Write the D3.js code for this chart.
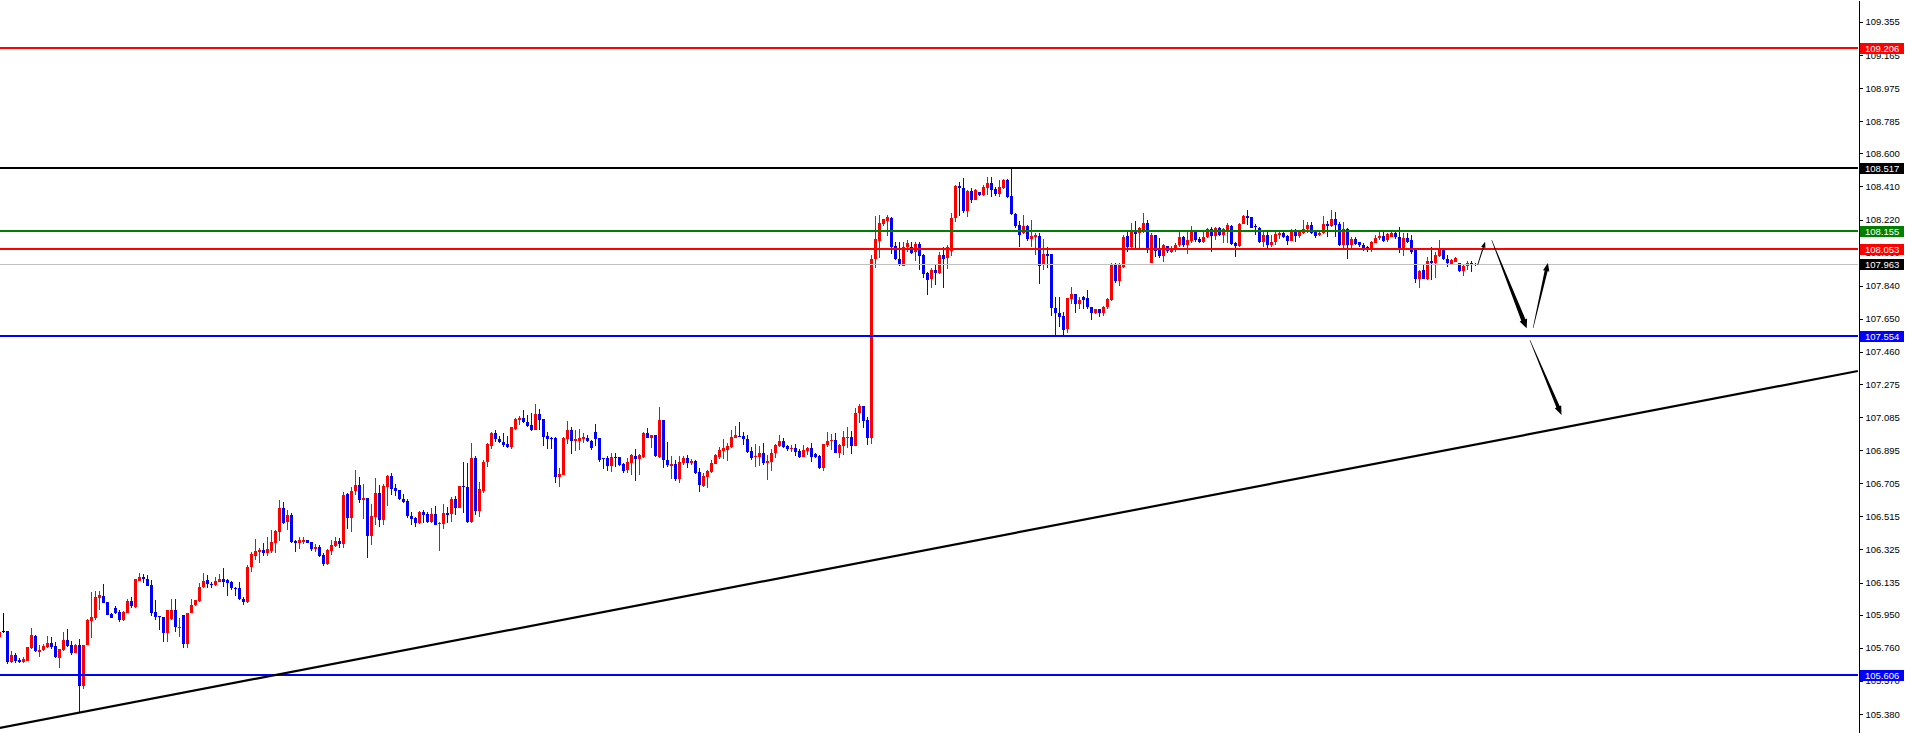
<!DOCTYPE html>
<html><head><meta charset="utf-8">
<script src="https://cdn.jsdelivr.net/npm/d3@7"></script>
<style>
html,body{margin:0;padding:0;background:#fff;overflow:hidden;}
svg{display:block;}
.tk text{font-family:"Liberation Sans",Arial,sans-serif;font-size:9.5px;fill:#000;}
</style></head><body>
<svg id="c" width="1905" height="733"></svg>
<script>
// ---------- DATA ----------
const opens = [105.824,105.856,105.856,105.680,105.719,105.693,105.680,105.686,105.760,105.827,105.737,105.747,105.766,105.789,105.772,105.703,105.747,105.805,105.776,105.732,
105.776,105.542,105.776,105.916,105.933,106.044,106.057,106.025,105.954,105.987,105.964,105.920,105.962,106.029,105.996,106.145,106.165,106.155,106.121,105.966,
105.943,105.937,105.847,105.924,105.977,105.877,105.948,105.785,105.958,106.006,106.030,106.107,106.149,106.126,106.119,106.140,106.153,106.149,106.140,106.103,
106.105,106.042,106.025,106.222,106.289,106.312,106.321,106.306,106.318,106.365,106.427,106.565,106.484,106.524,106.373,106.363,106.369,106.377,106.367,106.329,
106.341,106.296,106.241,106.318,106.346,106.373,106.356,106.641,106.507,106.660,106.695,106.609,106.622,106.404,106.513,106.647,106.494,106.685,106.746,106.679,
106.666,106.616,106.605,106.517,106.507,106.478,106.542,106.528,106.482,106.528,106.469,106.471,106.536,106.526,106.614,106.565,106.689,106.685,106.484,106.852,
106.547,106.662,106.829,106.921,106.995,106.959,106.944,106.931,106.915,107.017,107.068,107.078,107.055,107.040,107.011,107.103,107.074,106.977,106.967,106.965,
106.743,106.753,106.959,107.011,106.950,106.950,106.957,106.967,106.950,107.000,106.967,106.848,106.848,106.804,106.858,106.856,106.816,106.781,106.823,106.862,
106.846,106.854,106.992,106.967,106.982,106.858,107.068,106.839,106.806,106.816,106.730,106.823,106.852,106.823,106.835,106.772,106.691,106.743,106.772,106.816,
106.858,106.892,106.898,106.915,106.967,106.977,106.977,106.961,106.890,106.854,106.858,106.877,106.820,106.829,106.877,106.921,106.948,106.919,106.904,106.910,
106.890,106.858,106.890,106.910,106.871,106.862,106.795,106.925,106.948,106.954,106.881,106.921,106.963,106.973,106.921,107.107,107.149,107.068,106.967,107.993,
108.098,108.194,108.213,108.230,108.067,107.993,107.955,108.064,108.064,108.035,108.079,108.016,107.914,107.876,107.930,107.914,108.016,107.997,108.039,108.230,
108.412,108.399,108.269,108.383,108.332,108.378,108.360,108.402,108.428,108.395,108.366,108.399,108.447,108.355,108.251,108.188,108.140,108.182,108.111,108.117,
108.125,107.958,108.025,108.022,107.713,107.686,107.667,107.589,107.761,107.792,107.734,107.773,107.771,107.715,107.681,107.706,107.681,107.719,107.757,107.958,
107.866,107.949,108.125,108.064,108.150,108.144,108.159,108.202,107.972,108.131,108.045,108.010,108.068,108.035,108.051,108.074,108.121,108.074,108.096,108.150,
108.106,108.093,108.118,108.164,108.127,108.169,108.131,108.160,108.183,108.087,108.070,108.194,108.240,108.234,108.183,108.173,108.089,108.131,108.074,108.093,
108.131,108.141,108.125,108.096,108.160,108.127,108.141,108.164,108.188,108.150,108.131,108.141,108.192,108.185,108.221,108.192,108.074,108.164,108.074,108.106,
108.093,108.074,108.064,108.058,108.087,108.112,108.125,108.102,108.121,108.141,108.121,108.054,108.112,108.102,108.051,107.878,107.930,107.876,107.984,107.972,
108.010,108.045,107.991,107.964,107.978,107.968,107.924,107.953,107.972,107.964];
const highs = [105.856,105.958,105.856,105.742,105.732,105.703,105.705,105.766,105.875,105.833,105.776,105.785,105.827,105.824,105.795,105.756,105.852,105.870,105.801,105.782,
105.812,105.776,105.924,106.082,106.088,106.088,106.126,106.025,105.962,106.000,105.977,105.973,106.038,106.054,106.155,106.188,106.184,106.178,106.149,106.034,
105.943,105.939,105.977,106.038,106.038,105.929,105.948,105.958,106.038,106.034,106.130,106.188,106.178,106.140,106.168,106.184,106.220,106.153,106.143,106.111,
106.140,106.054,106.235,106.312,106.385,106.335,106.360,106.398,106.436,106.436,106.609,106.597,106.551,106.532,106.379,106.394,106.394,106.379,106.369,106.356,
106.350,106.302,106.327,106.379,106.398,106.392,106.655,106.647,106.685,106.781,106.739,106.704,106.622,106.586,106.737,106.695,106.704,106.752,106.764,106.700,
106.666,106.641,106.614,106.540,106.513,106.545,106.551,106.538,106.565,106.574,106.484,106.586,106.570,106.624,106.632,106.691,106.829,106.823,106.938,106.861,
106.714,106.838,106.938,107.001,107.011,106.976,106.992,106.977,107.030,107.078,107.091,107.126,107.097,107.107,107.160,107.132,107.074,107.000,106.973,106.973,
106.791,106.973,107.063,107.026,107.011,107.015,106.992,106.982,106.954,107.045,106.967,106.852,106.862,106.877,106.877,106.858,106.819,106.848,106.873,106.900,
106.873,107.000,107.020,106.982,106.982,107.141,107.068,106.940,106.862,106.839,106.862,106.864,106.867,106.842,106.839,106.791,106.762,106.781,106.839,106.873,
106.915,106.958,106.935,107.011,107.034,107.057,107.001,106.982,106.915,106.931,106.921,106.934,106.867,106.902,106.931,106.982,106.967,106.925,106.925,106.931,
106.902,106.925,106.915,106.934,106.881,106.867,106.931,107.000,106.986,106.996,106.929,107.005,107.030,107.005,107.139,107.160,107.149,107.088,108.016,108.241,
108.246,108.226,108.246,108.236,108.089,108.089,108.089,108.102,108.092,108.089,108.089,108.025,107.920,107.939,107.958,108.035,108.060,108.073,108.255,108.418,
108.433,108.456,108.389,108.403,108.395,108.378,108.418,108.462,108.462,108.408,108.447,108.451,108.451,108.517,108.255,108.211,108.246,108.188,108.217,108.140,
108.140,108.111,108.064,108.025,107.773,107.777,107.690,107.771,107.834,107.792,107.777,107.780,107.815,107.719,107.709,107.706,107.723,107.767,107.968,107.968,
107.968,108.131,108.154,108.202,108.211,108.178,108.259,108.217,108.144,108.131,108.112,108.077,108.068,108.068,108.083,108.150,108.125,108.150,108.183,108.160,
108.121,108.150,108.173,108.179,108.179,108.179,108.173,108.202,108.188,108.093,108.198,108.246,108.275,108.236,108.192,108.179,108.150,108.150,108.131,108.160,
108.156,108.150,108.131,108.164,108.164,108.150,108.217,108.208,108.208,108.156,108.150,108.240,108.213,108.275,108.261,108.208,108.208,108.169,108.118,108.121,
108.093,108.083,108.070,108.097,108.131,108.150,108.150,108.141,108.150,108.150,108.175,108.141,108.144,108.131,108.054,107.930,107.959,108.003,108.064,108.035,
108.102,108.049,108.016,107.991,108.003,107.972,107.959,107.984,107.984,107.968];
const lows = [105.824,105.843,105.665,105.671,105.674,105.674,105.674,105.686,105.751,105.737,105.705,105.743,105.762,105.756,105.701,105.642,105.743,105.766,105.718,105.728,
105.383,105.521,105.776,105.814,105.920,105.977,106.015,105.948,105.929,105.954,105.910,105.916,105.958,105.987,105.987,106.145,106.134,106.117,105.943,105.920,
105.862,105.795,105.795,105.920,105.852,105.820,105.762,105.760,105.958,106.000,106.025,106.101,106.101,106.101,106.117,106.136,106.111,106.057,106.092,106.057,
106.034,106.006,106.019,106.197,106.264,106.249,106.287,106.289,106.302,106.302,106.375,106.471,106.436,106.360,106.312,106.325,106.354,106.360,106.318,106.308,
106.283,106.230,106.235,106.293,106.341,106.335,106.335,106.442,106.427,106.637,106.593,106.501,106.277,106.350,106.465,106.456,106.465,106.576,106.637,106.632,
106.612,106.593,106.507,106.465,106.456,106.471,106.480,106.480,106.475,106.465,106.318,106.440,106.480,106.484,106.524,106.561,106.536,106.475,106.475,106.522,
106.509,106.651,106.800,106.902,106.944,106.938,106.915,106.910,106.904,107.011,107.040,107.053,107.030,107.005,107.011,107.011,106.919,106.904,106.904,106.708,
106.682,106.753,106.931,106.873,106.892,106.896,106.934,106.944,106.896,106.919,106.825,106.787,106.776,106.772,106.800,106.806,106.762,106.766,106.752,106.720,
106.752,106.848,106.963,106.906,106.856,106.848,106.791,106.797,106.728,106.720,106.708,106.810,106.795,106.810,106.758,106.657,106.685,106.676,106.766,106.816,
106.843,106.843,106.833,106.906,106.963,106.969,106.925,106.877,106.839,106.797,106.804,106.810,106.724,106.778,106.852,106.915,106.910,106.892,106.887,106.862,
106.852,106.854,106.868,106.829,106.848,106.787,106.777,106.915,106.896,106.877,106.848,106.867,106.906,106.871,106.921,107.053,107.021,106.925,106.930,107.939,
107.997,108.182,108.125,108.025,107.987,107.953,107.953,108.035,108.022,107.981,107.930,107.886,107.786,107.824,107.843,107.907,107.828,107.935,108.010,108.207,
108.240,108.255,108.236,108.313,108.332,108.357,108.355,108.360,108.351,108.355,108.347,108.393,108.345,108.246,108.169,108.064,108.135,108.096,108.064,108.016,
107.849,107.933,107.939,107.667,107.556,107.604,107.556,107.570,107.734,107.681,107.709,107.709,107.709,107.642,107.677,107.662,107.665,107.709,107.753,107.857,
107.838,107.939,108.035,108.058,108.054,108.054,108.144,108.029,107.972,108.003,108.001,107.978,108.030,108.026,108.035,108.064,108.064,108.022,108.087,108.093,
108.083,108.083,108.112,108.035,108.102,108.127,108.083,108.083,108.074,108.007,108.064,108.192,108.188,108.169,108.131,108.083,108.064,108.054,108.064,108.074,
108.106,108.112,108.074,108.096,108.093,108.112,108.137,108.141,108.137,108.112,108.125,108.137,108.121,108.179,108.121,108.068,108.054,107.993,108.054,108.074,
108.064,108.041,108.035,108.035,108.083,108.102,108.093,108.093,108.118,108.106,108.030,108.010,108.083,108.022,107.853,107.828,107.876,107.872,107.872,107.882,
108.007,107.987,107.945,107.964,107.978,107.920,107.896,107.930,107.920,107.955];
const closes = [105.853,105.856,105.680,105.719,105.686,105.678,105.695,105.766,105.833,105.741,105.747,105.772,105.789,105.766,105.705,105.751,105.805,105.770,105.732,105.776,
105.542,105.776,105.920,105.939,106.050,106.063,106.015,105.950,105.929,105.962,105.920,105.964,106.030,106.000,106.155,106.165,106.157,106.117,105.962,105.939,
105.939,105.843,105.977,105.977,105.877,105.881,105.785,105.958,106.009,106.034,106.107,106.145,106.126,106.119,106.143,106.157,106.136,106.134,106.101,106.101,
106.042,106.025,106.222,106.298,106.316,106.321,106.306,106.325,106.367,106.431,106.565,106.480,106.522,106.369,106.363,106.379,106.379,106.363,106.325,106.341,
106.289,106.241,106.321,106.350,106.373,106.356,106.637,106.507,106.660,106.695,106.609,106.622,106.404,106.517,106.647,106.494,106.689,106.746,106.674,106.660,
106.616,106.597,106.517,106.499,106.478,106.538,106.522,106.484,106.528,106.465,106.478,106.532,106.524,106.614,106.565,106.689,106.685,106.484,106.852,106.547,
106.672,106.829,106.930,106.995,106.959,106.940,106.925,106.911,107.026,107.074,107.082,107.055,107.034,107.011,107.103,107.068,106.973,106.961,106.963,106.743,
106.758,106.967,107.011,106.950,106.959,106.963,106.969,106.950,106.906,106.961,106.839,106.843,106.804,106.858,106.852,106.810,106.777,106.827,106.867,106.846,
106.869,106.996,106.967,106.982,106.862,107.068,106.839,106.810,106.816,106.728,106.829,106.852,106.823,106.835,106.766,106.695,106.747,106.777,106.823,106.866,
106.896,106.910,106.921,106.973,106.982,106.971,106.958,106.887,106.852,106.862,106.877,106.820,106.833,106.877,106.925,106.948,106.915,106.902,106.910,106.887,
106.858,106.896,106.910,106.858,106.858,106.795,106.931,106.948,106.954,106.881,106.925,106.973,106.973,106.921,107.111,107.149,107.065,106.967,107.993,108.106,
108.198,108.221,108.236,108.064,107.991,107.958,108.064,108.083,108.029,108.079,108.012,107.910,107.872,107.930,107.914,108.016,107.993,108.060,108.230,108.412,
108.403,108.269,108.383,108.332,108.389,108.360,108.408,108.428,108.389,108.364,108.408,108.447,108.351,108.251,108.182,108.131,108.182,108.106,108.125,108.131,
107.955,108.025,108.010,107.713,107.681,107.662,107.585,107.771,107.792,107.734,107.757,107.757,107.715,107.684,107.706,107.681,107.719,107.763,107.958,107.866,
107.958,108.117,108.064,108.150,108.137,108.169,108.202,108.045,108.131,108.041,108.010,108.074,108.039,108.054,108.074,108.121,108.074,108.102,108.150,108.102,
108.093,108.118,108.165,108.127,108.169,108.131,108.164,108.188,108.079,108.070,108.194,108.240,108.231,108.173,108.175,108.089,108.131,108.074,108.093,108.135,
108.141,108.121,108.096,108.160,108.125,108.146,108.165,108.188,108.141,108.125,108.144,108.192,108.185,108.221,108.188,108.074,108.164,108.074,108.106,108.079,
108.074,108.054,108.058,108.093,108.116,108.127,108.098,108.135,108.144,108.118,108.054,108.112,108.093,108.035,107.878,107.926,107.876,107.984,107.972,108.016,
108.045,107.991,107.968,107.987,107.997,107.926,107.955,107.972,107.959,107.963];

// right-axis tick labels
const tickLabels = ["109.355","109.165","108.975","108.785","108.600","108.410","108.220","108.030","107.840","107.650",
  "107.460","107.275","107.085","106.895","106.705","106.515","106.325","106.135","105.950","105.760","105.570","105.380"];
// horizontal levels
const levelValues = [109.206, 108.517, 108.155, 108.053, 107.554, 105.606];
const levelKinds  = ["red", "black", "green", "red", "blue", "blue"];
const currentPrice = 107.963;
// trend line anchors (bar index, price)
const trendIdx = [0, 464.6];
const trendPrice = [105.300, 107.350];
// projection arrows (bar index, price) start -> end
const arrowFromIdx = [369.55, 373.05, 383.4, 382.6];
const arrowFromPrice = [107.959, 108.102, 107.597, 107.528];
const arrowToIdx = [371.4, 381.8, 387.1, 390.5];
const arrowToPrice = [108.093, 107.595, 107.970, 107.097];

// ---------- STYLE ----------
const W = 1905, H = 733, AX = 1858;
const col = {red:"#ff0000", black:"#000000", green:"#008000", blue:"#0000ff"};
const arrowStyle = [
  {w0:0.8, w1:1.2, hl:6, hw:4.5},
  {w0:0.5, w1:4.5, hl:9, hw:8},
  {w0:0.5, w1:3.0, hl:8, hw:6.5},
  {w0:0.5, w1:3.5, hl:9, hw:7}
];

const svg = d3.select("#c");
const x = d3.scaleLinear().domain([0, 464.625]).range([-0.5, AX]);
const y = d3.scaleLinear().domain([105.271, 109.481]).range([H, 0]);

// candles
const gC = svg.append("g").attr("shape-rendering","crispEdges");
const idx = d3.range(opens.length);
const cColor = i => closes[i] > opens[i] ? col.red : (closes[i] < opens[i] ? col.blue : col.black);
gC.selectAll("rect.w").data(idx).join("rect").attr("class","w")
  .attr("x", i => Math.round(x(i) - 0.5)).attr("width", 1)
  .attr("y", i => Math.round(y(highs[i])))
  .attr("height", i => Math.max(1, Math.round(y(lows[i])) - Math.round(y(highs[i]))))
  .attr("fill", cColor);
gC.selectAll("rect.b").data(idx).join("rect").attr("class","b")
  .attr("x", i => Math.round(x(i) - 1.5)).attr("width", 3)
  .attr("y", i => Math.round(y(Math.max(opens[i], closes[i]))))
  .attr("height", i => Math.max(1, Math.round(y(Math.min(opens[i], closes[i]))) - Math.round(y(Math.max(opens[i], closes[i])))))
  .attr("fill", cColor);

// current price line
svg.append("line").attr("x1",0).attr("x2",AX)
  .attr("y1", Math.round(y(currentPrice))+0.5).attr("y2", Math.round(y(currentPrice))+0.5)
  .attr("stroke","#c0c0c0").attr("stroke-width",1);

// levels
svg.append("g").selectAll("line").data(levelValues).join("line")
  .attr("x1",0).attr("x2",AX)
  .attr("y1", d => Math.round(y(d))).attr("y2", d => Math.round(y(d)))
  .attr("stroke", (d,i) => col[levelKinds[i]]).attr("stroke-width",2)
  .attr("shape-rendering","crispEdges");

// trend line
svg.append("line")
  .attr("x1", x(trendIdx[0])).attr("y1", y(trendPrice[0]))
  .attr("x2", x(trendIdx[1])).attr("y2", y(trendPrice[1]))
  .attr("stroke","#000").attr("stroke-width",2.2);

// arrows
function arrowPts(x1,y1,x2,y2,s){
  const dx=x2-x1, dy=y2-y1, L=Math.hypot(dx,dy), ux=dx/L, uy=dy/L, nx=-uy, ny=ux;
  const bx=x2-ux*s.hl, by=y2-uy*s.hl;
  return [[x1+nx*s.w0/2,y1+ny*s.w0/2],[bx+nx*s.w1/2,by+ny*s.w1/2],[bx+nx*s.hw/2,by+ny*s.hw/2],[x2,y2],
          [bx-nx*s.hw/2,by-ny*s.hw/2],[bx-nx*s.w1/2,by-ny*s.w1/2],[x1-nx*s.w0/2,y1-ny*s.w0/2]];
}
svg.append("g").selectAll("polygon").data(arrowFromIdx).join("polygon")
  .attr("points", (d,i) => arrowPts(x(arrowFromIdx[i]), y(arrowFromPrice[i]), x(arrowToIdx[i]), y(arrowToPrice[i]), arrowStyle[i]).map(p=>p.join(",")).join(" "))
  .attr("fill","#000");

// right axis
const ax = svg.append("g").attr("class","tk").attr("transform",`translate(${AX+0.5},0)`)
  .call(d3.axisRight(y).tickValues(tickLabels.map(Number)).tickFormat((d,i)=>tickLabels[i]).tickSize(4).tickSizeOuter(0).tickPadding(3));
ax.select(".domain").attr("stroke","#000");
ax.selectAll(".tick line").attr("stroke","#000");
ax.attr("shape-rendering","crispEdges");

// price boxes
const boxes = levelValues.map((v,i)=>({v, fill: col[levelKinds[i]]})).concat([{v: currentPrice, fill: col.black}]);
const gB = svg.append("g");
gB.selectAll("rect").data(boxes).join("rect")
  .attr("x", AX+2).attr("width", W-AX-3)
  .attr("y", d => Math.round(y(d.v)) - 5).attr("height", 11)
  .attr("fill", d => d.fill).attr("shape-rendering","crispEdges");
gB.selectAll("text").data(boxes).join("text")
  .attr("x", AX+7).attr("y", d => Math.round(y(d.v)) + 0.5)
  .attr("dy","0.35em")
  .attr("font-family","Liberation Sans, Arial, sans-serif").attr("font-size","9.5px")
  .attr("fill","#fff").text(d => d.v.toFixed(3));
</script>
</body></html>
